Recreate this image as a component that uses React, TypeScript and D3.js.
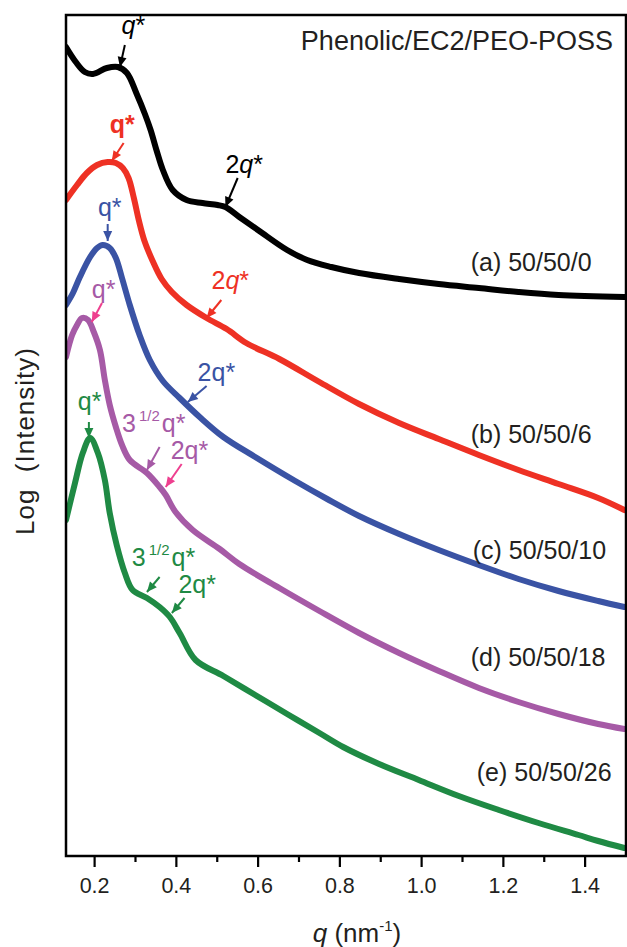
import * as d3 from 'd3'

// q (nm^-1) vs log intensity (arbitrary units, curves offset vertically)
const qA = [0.13, 0.154, 0.176, 0.196, 0.23, 0.257, 0.279, 0.303, 0.323, 0.337, 0.352, 0.367, 0.391, 0.425, 0.464, 0.501, 0.52, 0.554, 0.603, 0.671, 0.72, 0.779, 0.847, 0.945, 1.042, 1.14, 1.237, 1.335, 1.496]
const vA = [8.09, 7.94, 7.84, 7.82, 7.88, 7.89, 7.83, 7.62, 7.42, 7.26, 7.05, 6.86, 6.66, 6.56, 6.53, 6.51, 6.49, 6.39, 6.25, 6.06, 5.96, 5.89, 5.83, 5.77, 5.72, 5.68, 5.64, 5.61, 5.59]

const qB = [0.13, 0.157, 0.181, 0.206, 0.232, 0.252, 0.269, 0.283, 0.296, 0.308, 0.322, 0.342, 0.364, 0.389, 0.425, 0.474, 0.523, 0.571, 0.652, 0.75, 0.847, 0.945, 1.042, 1.14, 1.237, 1.335, 1.432, 1.496]
const vB = [6.56, 6.71, 6.83, 6.91, 6.94, 6.93, 6.88, 6.78, 6.58, 6.36, 6.15, 5.95, 5.77, 5.64, 5.51, 5.38, 5.27, 5.13, 4.97, 4.74, 4.52, 4.33, 4.17, 4.01, 3.86, 3.72, 3.58, 3.46]

const qC = [0.13, 0.147, 0.164, 0.189, 0.206, 0.22, 0.237, 0.252, 0.267, 0.286, 0.31, 0.335, 0.367, 0.408, 0.457, 0.515, 0.593, 0.691, 0.769, 0.847, 0.945, 1.042, 1.14, 1.237, 1.335, 1.432, 1.496]
const vC = [5.51, 5.63, 5.79, 5.99, 6.08, 6.11, 6.08, 5.98, 5.78, 5.51, 5.21, 4.96, 4.75, 4.58, 4.39, 4.19, 3.99, 3.75, 3.57, 3.4, 3.22, 3.06, 2.91, 2.77, 2.65, 2.55, 2.49]

const qD = [0.13, 0.145, 0.157, 0.169, 0.184, 0.198, 0.213, 0.225, 0.237, 0.252, 0.267, 0.286, 0.328, 0.359, 0.374, 0.398, 0.44, 0.506, 0.554, 0.652, 0.75, 0.847, 0.945, 1.042, 1.14, 1.237, 1.335, 1.432, 1.496]
const vD = [4.99, 5.21, 5.31, 5.38, 5.36, 5.24, 5.06, 4.76, 4.51, 4.29, 4.11, 3.96, 3.83, 3.69, 3.61, 3.44, 3.26, 3.07, 2.92, 2.68, 2.45, 2.23, 2.03, 1.85, 1.68, 1.54, 1.42, 1.32, 1.27]

const qE = [0.13, 0.152, 0.171, 0.189, 0.208, 0.225, 0.237, 0.254, 0.274, 0.293, 0.328, 0.359, 0.384, 0.408, 0.447, 0.515, 0.593, 0.671, 0.75, 0.808, 0.896, 0.993, 1.091, 1.189, 1.286, 1.384, 1.432, 1.496]
const vE = [3.36, 3.73, 4.03, 4.18, 4.03, 3.76, 3.43, 3.11, 2.83, 2.66, 2.58, 2.49, 2.39, 2.23, 1.96, 1.8, 1.61, 1.42, 1.23, 1.09, 0.92, 0.76, 0.6, 0.46, 0.33, 0.21, 0.15, 0.08]

const seriesNames = ['(a) 50/50/0', '(b) 50/50/6', '(c) 50/50/10', '(d) 50/50/18', '(e) 50/50/26']
const seriesColors = ['#000000', '#ee3124', '#3a53a4', '#a65aa6', '#1f8a44']
const labelQ = [1.12, 1.12, 1.125, 1.12, 1.135]
const labelV = [5.85, 4.13, 2.97, 1.9, 0.75]

const xTicks = [0.2, 0.4, 0.6, 0.8, 1.0, 1.2, 1.4]
const xMinor = [0.3, 0.5, 0.7, 0.9, 1.1, 1.3]

const pink = '#ee3f8f'
// peak annotations: text anchor (q, v) and arrow from -> to
const annotations = [
  { base: '', main: 'q*', italic: true, bold: false, color: '#000', arrow: '#000', tq: 0.266, tv: 8.22, fq: 0.274, fv: 8.11, aq: 0.262, av: 7.89 },
  { base: '2', main: 'q*', italic: true, bold: false, color: '#000', arrow: '#000', tq: 0.52, tv: 6.83, fq: 0.55, fv: 6.78, aq: 0.52, av: 6.49 },
  { base: '', main: 'q*', italic: false, bold: true, color: '#ee3124', arrow: '#ee3124', tq: 0.237, tv: 7.23, fq: 0.271, fv: 7.13, aq: 0.242, av: 6.95 },
  { base: '2', main: 'q*', italic: true, bold: false, color: '#ee3124', arrow: '#ee3124', tq: 0.486, tv: 5.67, fq: 0.51, fv: 5.56, aq: 0.474, av: 5.38 },
  { base: '', main: 'q*', italic: false, bold: false, color: '#3a53a4', arrow: '#3a53a4', tq: 0.208, tv: 6.4, fq: 0.232, fv: 6.32, aq: 0.232, av: 6.15 },
  { base: '2', main: 'q*', italic: false, bold: false, color: '#3a53a4', arrow: '#3a53a4', tq: 0.452, tv: 4.75, fq: 0.474, fv: 4.7, aq: 0.428, av: 4.54 },
  { base: '', main: 'q*', italic: false, bold: false, color: '#a65aa6', arrow: pink, tq: 0.193, tv: 5.58, fq: 0.218, fv: 5.53, aq: 0.193, av: 5.34 },
  { base: '3', sup: '1/2', main: 'q*', italic: false, bold: false, color: '#a65aa6', arrow: '#a65aa6', tq: 0.267, tv: 4.24, fq: 0.359, fv: 4.09, aq: 0.328, av: 3.86 },
  { base: '2', main: 'q*', italic: false, bold: false, color: '#a65aa6', arrow: pink, tq: 0.386, tv: 3.97, fq: 0.413, fv: 3.92, aq: 0.374, av: 3.69 },
  { base: '', main: 'q*', italic: false, bold: false, color: '#1f8a44', arrow: '#1f8a44', tq: 0.159, tv: 4.46, fq: 0.186, fv: 4.34, aq: 0.186, av: 4.18 },
  { base: '3', sup: '1/2', main: 'q*', italic: false, bold: false, color: '#1f8a44', arrow: '#1f8a44', tq: 0.291, tv: 2.9, fq: 0.359, fv: 2.79, aq: 0.328, av: 2.64 },
  { base: '2', main: 'q*', italic: false, bold: false, color: '#1f8a44', arrow: '#1f8a44', tq: 0.405, tv: 2.63, fq: 0.42, fv: 2.58, aq: 0.389, av: 2.43 },
]

const W = 627
const H = 947
const M = { left: 66, right: 1, top: 15, bottom: 91 }
const font = '"Liberation Sans", Arial, Helvetica, sans-serif'

export default function App() {
  const x = d3.scaleLinear().domain([0.13, 1.5]).range([M.left, W - M.right])
  const y = d3.scaleLinear().domain([0, 8.41]).range([H - M.bottom, M.top])
  const line = d3.line<[number, number]>()
    .x(d => x(d[0]))
    .y(d => y(d[1]))
    .curve(d3.curveCatmullRom.alpha(0.5))

  const series = [[qA, vA], [qB, vB], [qC, vC], [qD, vD], [qE, vE]].map(([qs, vs]) =>
    qs.map((q, i) => [q, vs[i]] as [number, number]))

  const yBottom = H - M.bottom

  const arrowHead = (x1: number, y1: number, x2: number, y2: number, len = 10, half = 4.5) => {
    const a = Math.atan2(y2 - y1, x2 - x1)
    const bx = x2 - len * Math.cos(a)
    const by = y2 - len * Math.sin(a)
    const px = -Math.sin(a) * half
    const py = Math.cos(a) * half
    return `${x2},${y2} ${bx + px},${by + py} ${bx - px},${by - py}`
  }

  return (
    <svg width={W} height={H} style={{ position: 'absolute', left: 0, top: 0, background: '#fff' }} fontFamily={font}>
      <defs>
        <clipPath id="plot">
          <rect x={M.left} y={M.top} width={W - M.right - M.left} height={yBottom - M.top} />
        </clipPath>
      </defs>
      <rect width={W} height={H} fill="#fff" />

      <g clipPath="url(#plot)">
        {series.map((pts, i) => (
          <path key={i} d={line(pts) || ''} fill="none" stroke={seriesColors[i]} strokeWidth={6}
            strokeLinejoin="round" strokeLinecap="round" />
        ))}
      </g>

      {/* frame */}
      <rect x={M.left} y={M.top} width={W - M.right - M.left} height={yBottom - M.top}
        fill="none" stroke="#000" strokeWidth={2.5} />

      {/* x axis ticks */}
      {xTicks.map(t => (
        <g key={t}>
          <line x1={x(t)} x2={x(t)} y1={yBottom} y2={yBottom + 11} stroke="#000" strokeWidth={2.2} />
          <text x={x(t)} y={893} textAnchor="middle" fontSize={21.5} fill="#231f20">{t.toFixed(1)}</text>
        </g>
      ))}
      {xMinor.map(t => (
        <line key={t} x1={x(t)} x2={x(t)} y1={yBottom} y2={yBottom + 6} stroke="#000" strokeWidth={2.2} />
      ))}

      {/* axis titles */}
      <text x={357} y={942} textAnchor="middle" fontSize={26} fill="#231f20">
        <tspan fontStyle="italic">q</tspan>
        <tspan> (nm</tspan>
        <tspan fontSize={15} dy={-11}>-1</tspan>
        <tspan dy={11}>)</tspan>
      </text>
      <text transform="translate(34,441) rotate(-90)" textAnchor="middle" fontSize={26} letterSpacing={1}
        fill="#231f20" style={{ whiteSpace: 'pre' }}>
        {'Log  (Intensity)'}
      </text>

      {/* title */}
      <text x={613} y={50} textAnchor="end" fontSize={27} fill="#231f20">Phenolic/EC2/PEO-POSS</text>

      {/* series labels */}
      {seriesNames.map((s, i) => (
        <text key={s} x={x(labelQ[i])} y={y(labelV[i])} fontSize={25} fill="#231f20">{s}</text>
      ))}

      {/* peak annotations */}
      {annotations.map((a, i) => {
        const x1 = x(a.fq), y1 = y(a.fv), x2 = x(a.aq), y2 = y(a.av)
        return (
          <g key={i}>
            <text x={x(a.tq)} y={y(a.tv)} fontSize={25} fill={a.color} fontWeight={a.bold ? 'bold' : 'normal'}>
              {a.base && <tspan>{a.base}</tspan>}
              {a.sup && <tspan fontSize={15} dx={3} dy={-11}>{a.sup}</tspan>}
              <tspan dx={a.sup ? 2 : 0} dy={a.sup ? 11 : 0} fontStyle={a.italic ? 'italic' : 'normal'}>{a.main[0]}</tspan>
              <tspan>{a.main.slice(1)}</tspan>
            </text>
            <line x1={x1} y1={y1} x2={x2} y2={y2} stroke={a.arrow} strokeWidth={2} />
            <polygon points={arrowHead(x1, y1, x2, y2)} fill={a.arrow} />
          </g>
        )
      })}
    </svg>
  )
}
